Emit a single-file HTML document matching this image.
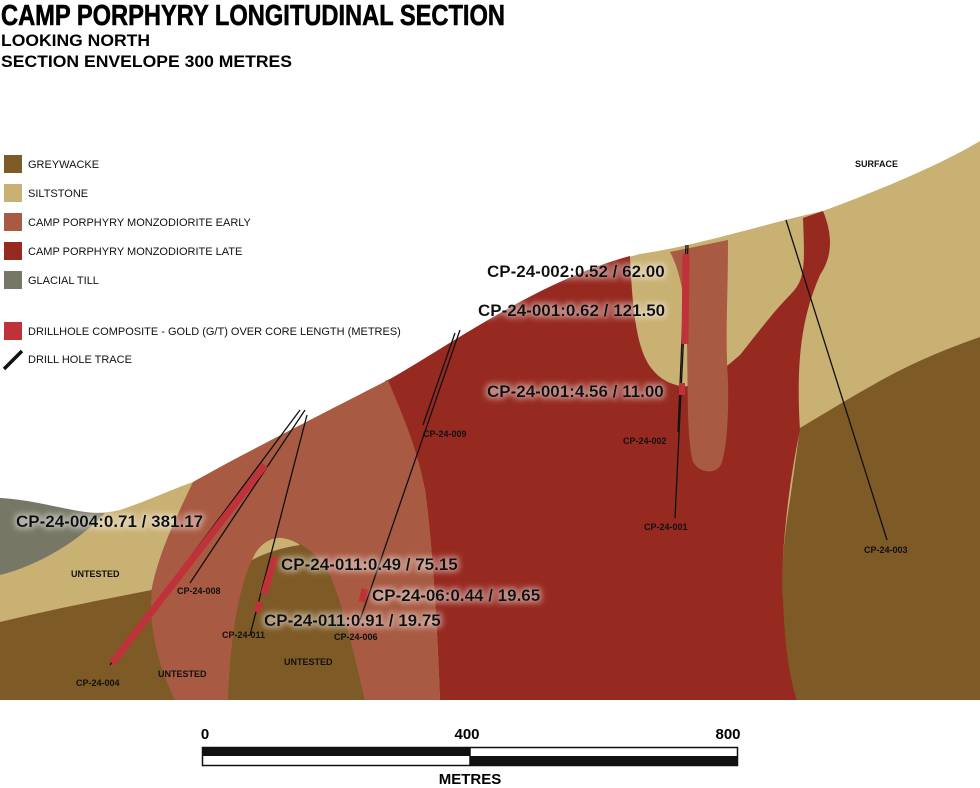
<!DOCTYPE html>
<html><head><meta charset="utf-8"><style>
html,body{margin:0;padding:0;background:#fff;}
svg{display:block;font-family:"Liberation Sans",Arial,sans-serif;}
.b{font-weight:bold}
.big{font-weight:bold;font-size:17px;fill:#111;filter:url(#glow)}
.sm{font-weight:bold;font-size:9px;fill:#111}
.lg{font-size:11px;fill:#111}
</style></head><body>
<svg width="980" height="788" viewBox="0 0 980 788" xmlns="http://www.w3.org/2000/svg">
<defs>
<filter id="glow" x="-10%" y="-50%" width="120%" height="200%">
<feMorphology in="SourceAlpha" operator="dilate" radius="2" result="d"/>
<feGaussianBlur in="d" stdDeviation="3" result="bl"/>
<feFlood flood-color="#fff" flood-opacity="0.45"/>
<feComposite in2="bl" operator="in" result="g"/>
<feMerge><feMergeNode in="g"/><feMergeNode in="SourceGraphic"/></feMerge>
</filter>
</defs>
<rect width="980" height="788" fill="#fff"/>
<text x="1" y="25" class="b" font-size="29" textLength="504" lengthAdjust="spacingAndGlyphs" stroke="#000" stroke-width="0.6">CAMP PORPHYRY LONGITUDINAL SECTION</text>
<text x="1" y="46" class="b" font-size="17" textLength="149" lengthAdjust="spacingAndGlyphs">LOOKING NORTH</text>
<text x="1" y="67" class="b" font-size="17" textLength="291" lengthAdjust="spacingAndGlyphs">SECTION ENVELOPE 300 METRES</text>

<!-- base: siltstone under surface -->
<path d="M0,498 C40,500 80,520 120,510 C150,500 170,490 193,482 C250,450 330,410 390,379 C450,345 540,280 640,254 C700,245 760,225 823,211 C880,190 940,165 980,141 L980,700 L0,700 Z" fill="#c9b073"/>
<!-- greywacke right -->
<path d="M800,428 C830,410 850,398 857,394 C890,375 920,358 980,337 L980,700 L797,700 C775,640 780,560 790,500 Z" fill="#7d5a26"/>
<!-- late porphyry -->
<path d="M385,381 L390,379 C450,345 540,280 630,256 C632,300 635,330 642,350 C650,375 670,388 690,386 C710,380 725,368 740,355 C760,330 775,310 790,295 C805,280 805,268 803,218 L823,211 C835,240 830,260 820,275 C805,310 795,350 800,430 C785,500 780,580 783,600 C785,650 790,680 797,700 L440,700 C437,620 432,540 425,490 C415,440 400,410 385,381 Z" fill="#962a20"/>
<!-- early porphyry tongue -->
<path d="M670,252 L728,240 C728,300 725,340 728,380 C729,420 726,450 722,462 C718,475 700,474 693,462 C687,440 688,400 687,340 C686,300 680,270 670,252 Z" fill="#a85a42"/>
<!-- early porphyry main -->
<path d="M193,482 C250,450 330,410 388,380 C400,410 415,440 425,490 C432,540 437,620 440,700 L175,700 C160,670 148,640 150,600 C155,560 175,520 193,482 Z" fill="#a85a42"/>
<!-- greywacke left -->
<path d="M0,622 C50,610 100,600 152,590 C148,630 160,670 175,700 L0,700 Z" fill="#7d5a26"/>
<!-- glacial till -->
<path d="M0,498 C40,500 80,515 105,513 C80,540 40,565 0,575 Z" fill="#777766"/>
<!-- dome -->
<path d="M228,700 C230,640 238,590 252,560 C260,545 270,537 282,538 C300,540 320,555 330,575 C345,610 355,660 365,700 Z" fill="#7d5a26"/>
<path d="M252,560 C258,545 270,537 282,538 C290,539 296,542 300,545 C280,548 265,553 252,560 Z" fill="#c9b073"/>

<!-- drill traces -->
<g stroke="#111" stroke-width="1.3" fill="none">
<line x1="300" y1="410" x2="110" y2="665"/>
<line x1="305" y1="410" x2="190" y2="583"/>
<line x1="307" y1="415" x2="250" y2="635"/>
<line x1="460" y1="330" x2="360" y2="620"/>
<line x1="455" y1="333" x2="423" y2="425"/>
<line x1="686" y1="245" x2="678" y2="432"/>
<line x1="688" y1="245" x2="675" y2="518"/>
<line x1="786" y1="220" x2="887" y2="540"/>
</g>
<!-- composites -->
<g stroke="#c0323a" fill="none">
<line x1="265" y1="465" x2="112" y2="663" stroke-width="7"/>
<line x1="275" y1="557" x2="264" y2="594" stroke-width="7"/>
<line x1="260" y1="602" x2="257" y2="612" stroke-width="7"/>
<line x1="365" y1="589" x2="362" y2="602" stroke-width="7"/>
<line x1="686" y1="254" x2="685" y2="344" stroke-width="7"/>
<line x1="682" y1="383" x2="682" y2="395" stroke-width="6"/>
</g>

<!-- labels -->
<text x="16" y="527" class="big">CP-24-004:0.71 / 381.17</text>
<text x="281" y="570" class="big">CP-24-011:0.49 / 75.15</text>
<text x="372" y="601" class="big">CP-24-06:0.44 / 19.65</text>
<text x="264" y="626" class="big">CP-24-011:0.91 / 19.75</text>
<text x="487" y="277" class="big">CP-24-002:0.52 / 62.00</text>
<text x="478" y="316" class="big">CP-24-001:0.62 / 121.50</text>
<text x="487" y="397" class="big">CP-24-001:4.56 / 11.00</text>
<text x="76" y="686" class="sm">CP-24-004</text>
<text x="177" y="594" class="sm">CP-24-008</text>
<text x="222" y="638" class="sm">CP-24-011</text>
<text x="334" y="640" class="sm">CP-24-006</text>
<text x="423" y="437" class="sm">CP-24-009</text>
<text x="623" y="444" class="sm">CP-24-002</text>
<text x="644" y="530" class="sm">CP-24-001</text>
<text x="864" y="553" class="sm">CP-24-003</text>
<text x="71" y="577" class="sm">UNTESTED</text>
<text x="158" y="677" class="sm">UNTESTED</text>
<text x="284" y="665" class="sm">UNTESTED</text>
<text x="855" y="167" class="sm">SURFACE</text>

<!-- legend -->
<rect x="4" y="155" width="18" height="18" fill="#7d5a26"/>
<rect x="4" y="184" width="18" height="18" fill="#c9b073"/>
<rect x="4" y="213" width="18" height="18" fill="#a85a42"/>
<rect x="4" y="242" width="18" height="18" fill="#962a20"/>
<rect x="4" y="271" width="18" height="18" fill="#777766"/>
<rect x="4" y="322" width="18" height="18" fill="#c0323a"/>
<line x1="4" y1="369" x2="22" y2="351" stroke="#111" stroke-width="3.5"/>
<text x="28" y="168" class="lg">GREYWACKE</text>
<text x="28" y="197" class="lg">SILTSTONE</text>
<text x="28" y="226" class="lg">CAMP PORPHYRY MONZODIORITE EARLY</text>
<text x="28" y="255" class="lg">CAMP PORPHYRY MONZODIORITE LATE</text>
<text x="28" y="284" class="lg">GLACIAL TILL</text>
<text x="28" y="335" class="lg">DRILLHOLE COMPOSITE - GOLD (G/T) OVER CORE LENGTH (METRES)</text>
<text x="28" y="363" class="lg">DRILL HOLE TRACE</text>

<!-- scale bar -->
<rect x="202.5" y="747.5" width="535" height="18" fill="#fff" stroke="#111" stroke-width="1.5"/>
<rect x="202" y="747" width="268" height="9" fill="#111"/>
<rect x="470" y="756" width="268" height="9" fill="#111"/>
<line x1="470" y1="747" x2="470" y2="765" stroke="#111" stroke-width="1.5"/>
<text x="205" y="739" class="b" font-size="15" text-anchor="middle">0</text>
<text x="467" y="739" class="b" font-size="15" text-anchor="middle">400</text>
<text x="728" y="739" class="b" font-size="15" text-anchor="middle">800</text>
<text x="470" y="784" class="b" font-size="15" text-anchor="middle">METRES</text>
</svg>
</body></html>
